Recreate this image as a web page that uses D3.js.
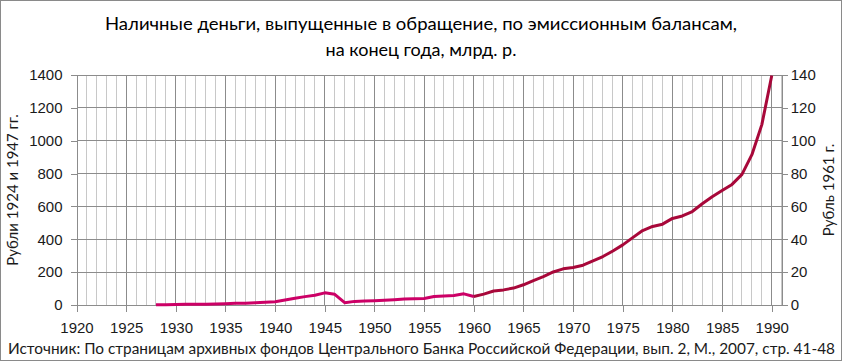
<!DOCTYPE html>
<html><head><meta charset="utf-8">
<script src="https://cdn.jsdelivr.net/npm/d3@7"></script>
<style>
html,body{margin:0;padding:0;background:#fff;}
svg{display:block;font-family:Lato,"Open Sans","DejaVu Sans",sans-serif;}
</style></head>
<body><svg id="c" width="842" height="361"></svg>
<script>
const titleLines = ["Наличные деньги, выпущенные в обращение, по эмиссионным балансам,", "на конец года, млрд. р."];
const leftAxisLabel = "Рубли 1924 и 1947 гг.";
const rightAxisLabel = "Рубль 1961 г.";
const sourceText = "Источник: По страницам архивных фондов Центрального Банка Российской Федерации, вып. 2, М., 2007,  стр. 41-48";

// Series in pre-1961 rubles (left axis), billions
const yearsOld = [1928,1929,1930,1931,1932,1933,1934,1935,1936,1937,1938,1939,1940,1941,1942,1943,1944,1945,1946,1947,1948,1949,1950,1951,1952,1953,1954,1955,1956,1957,1958,1959,1960];
const valuesOld = [2,2,3,4,5,5,6,8,10,11,14,17,20,30,41,51,59,74,65,14,22,24,26,29,32,36,38,40,52,55,58,68,52];
// Series in 1961 rubles (right axis), billions
const yearsNew = [1960,1961,1962,1963,1964,1965,1966,1967,1968,1969,1970,1971,1972,1973,1974,1975,1976,1977,1978,1979,1980,1981,1982,1983,1984,1985,1986,1987,1988,1989,1990];
const valuesNew = [5.2,6.6,8.5,9.2,10.3,12.3,14.9,17.3,20.1,22,22.8,24.2,26.8,29.5,32.9,36.6,41,45.3,47.8,49.2,52.7,54.2,56.9,61.6,65.9,69.7,73.4,79.5,91.5,109.8,139.7];

const leftTicks = [0,200,400,600,800,1000,1200,1400];
const rightTicks = [0,20,40,60,80,100,120,140];
const xTicks = [1920,1925,1930,1935,1940,1945,1950,1955,1960,1965,1970,1975,1980,1985,1990];

const svg = d3.select("#c");
const L = 76.5, R = 781.7, T = 75, B = 305;
const x = d3.scaleLinear().domain([1920,1991]).range([L,R]);
const yL = d3.scaleLinear().domain([0,1400]).range([B,T]);
const yR = d3.scaleLinear().domain([0,140]).range([B,T]);

svg.append("rect").attr("x",0.5).attr("y",0.5).attr("width",841).attr("height",360)
  .attr("fill","#fff").attr("stroke","#8a8a8a");

// minor vertical gridlines
const allYears = d3.range(1921,1992);
svg.append("g").selectAll("line").data(allYears.filter(d=>d%5!==0)).join("line")
  .attr("x1",d=>x(d)).attr("x2",d=>x(d)).attr("y1",T).attr("y2",B)
  .attr("stroke","#c8c8c8").attr("stroke-width",1).attr("shape-rendering","crispEdges");
svg.append("g").selectAll("line").data(allYears.filter(d=>d%5===0)).join("line")
  .attr("x1",d=>x(d)).attr("x2",d=>x(d)).attr("y1",T).attr("y2",B)
  .attr("stroke","#8c8c8c").attr("stroke-width",1).attr("shape-rendering","crispEdges");
svg.append("g").selectAll("line").data(leftTicks.slice(1)).join("line")
  .attr("x1",L).attr("x2",R).attr("y1",d=>yL(d)).attr("y2",d=>yL(d))
  .attr("stroke","#8c8c8c").attr("stroke-width",1).attr("shape-rendering","crispEdges");

// axes
const styleAxis = g => {
  g.select(".domain").attr("stroke","#8c8c8c").attr("shape-rendering","crispEdges");
  g.selectAll(".tick line").attr("stroke","#8c8c8c").attr("shape-rendering","crispEdges");
  g.selectAll("text").attr("fill","#1a1a1a").attr("font-size","15px");
};
svg.append("g").attr("transform",`translate(${L},0)`)
  .call(d3.axisLeft(yL).tickValues(leftTicks).tickSize(6).tickSizeOuter(0).tickPadding(8).tickFormat(d3.format("d")))
  .call(styleAxis);
svg.append("g").attr("transform",`translate(${R},0)`)
  .call(d3.axisRight(yR).tickValues(rightTicks).tickSize(6).tickSizeOuter(0).tickPadding(3).tickFormat(d3.format("d")))
  .call(styleAxis);
svg.append("g").attr("transform",`translate(0,${B})`)
  .call(d3.axisBottom(x).tickValues(xTicks).tickSize(7).tickSizeOuter(0).tickPadding(10).tickFormat(d3.format("d")))
  .call(styleAxis);

// lines
const lineOld = d3.line().x((d,i)=>x(yearsOld[i])).y(d=>yL(d));
const lineNew = d3.line().x((d,i)=>x(yearsNew[i])).y(d=>yR(d));
svg.append("path").attr("d",lineOld(valuesOld)).attr("fill","none")
  .attr("stroke","#cc0066").attr("stroke-width",3).attr("stroke-linejoin","round");
svg.append("path").attr("d",lineNew(valuesNew)).attr("fill","none")
  .attr("stroke","#a8083a").attr("stroke-width",3).attr("stroke-linejoin","round");

// title
svg.append("text").attr("x",421).attr("y",30).attr("text-anchor","middle")
  .attr("font-size","18px").attr("fill","#000").attr("textLength",632).attr("lengthAdjust","spacingAndGlyphs").text(titleLines[0]);
svg.append("text").attr("x",421).attr("y",56).attr("text-anchor","middle")
  .attr("font-size","18px").attr("fill","#000").text(titleLines[1]);

// axis labels
svg.append("text").attr("transform","translate(18,190) rotate(-90)").attr("text-anchor","middle")
  .attr("font-size","15px").attr("fill","#1a1a1a").text(leftAxisLabel);
svg.append("text").attr("transform","translate(834,190) rotate(-90)").attr("text-anchor","middle")
  .attr("font-size","15px").attr("fill","#1a1a1a").text(rightAxisLabel);

// source
svg.append("text").attr("x",8).attr("y",354).attr("font-size","15px").attr("fill","#1a1a1a")
  .attr("textLength",827).attr("lengthAdjust","spacingAndGlyphs").text(sourceText);
</script></body></html>
